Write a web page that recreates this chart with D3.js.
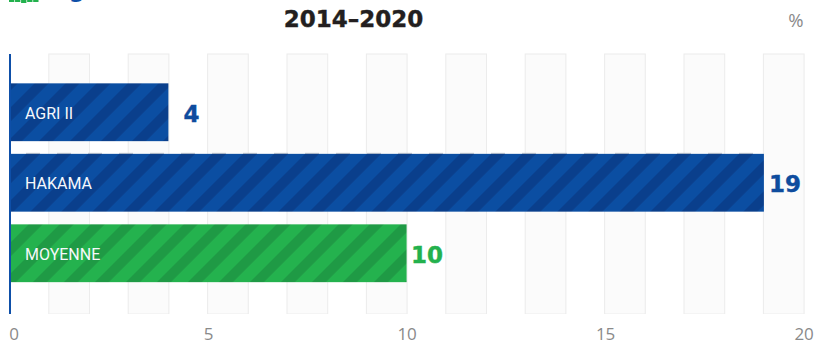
<!DOCTYPE html>
<html>
<head>
<meta charset="utf-8">
<script src="https://cdn.jsdelivr.net/npm/d3@7/dist/d3.min.js"></script>
<style>
html,body{margin:0;padding:0;background:#fff;overflow:hidden}
svg{display:block}
</style>
</head>
<body>
<script>
const categories = ["AGRI II", "HAKAMA", "MOYENNE"];
const values = [4, 19, 10];
const valueOffsets = [15, 5, 4.5];
const barKinds = ["blue", "blue", "green"];
const tickValues = [0, 5, 10, 15, 20];
const unitLabel = "%";
const titleLine = "2014–2020";
const iconBars = [2, 2, 3, 2, 2];

const width = 814, height = 344;
const palette = {
  blue:  {base: "#0b4ea2", dark: "#0a3f8c", phase: 25},
  green: {base: "#24b24e", dark: "#1f9a45", phase: 5}
};
const textColor = {blue: "#0e4c9e", green: "#23b14d"};

const x = d3.scaleLinear().domain([0, 20]).range([9.6, 803.6]);
const y = d3.scaleBand().domain(categories).range([77, 288.5]).paddingInner(0.18).paddingOuter(0.09);

const svg = d3.select("body").append("svg").attr("width", width).attr("height", height)
  .style("font-family", "'DejaVu Sans'");

// Diagonal hatching, one 31px-period pattern per colour
const defs = svg.append("defs");
const period = 31 / Math.SQRT2;
Object.entries(palette).forEach(([key, p]) => {
  const pat = defs.append("pattern")
    .attr("id", "hatch-" + key)
    .attr("patternUnits", "userSpaceOnUse")
    .attr("width", period).attr("height", period)
    .attr("patternTransform", `rotate(45) translate(${p.phase / Math.SQRT2} 0)`);
  pat.append("rect").attr("width", period).attr("height", period).attr("fill", p.base);
  pat.append("rect").attr("width", 14 / Math.SQRT2).attr("height", period).attr("fill", p.dark);
});

// Alternating background bands on every odd unit
const plotTop = 54, plotBottom = 314;
svg.append("g").selectAll("rect")
  .data(d3.range(1, 20, 2))
  .join("rect")
  .attr("x", d => x(d) - 0.5)
  .attr("width", d => x(d + 1) - x(d) + 1)
  .attr("y", plotTop)
  .attr("height", plotBottom - plotTop)
  .attr("fill", "#fbfbfb")
  .attr("stroke", "#ececec")
  .attr("stroke-width", 1);
svg.append("rect").attr("x", 0).attr("y", plotBottom).attr("width", width).attr("height", 3).attr("fill", "#fff");

// Thin dashes peeking out above the second bar
svg.append("line")
  .attr("x1", 10).attr("x2", x(19))
  .attr("y1", y("HAKAMA") - 0.5).attr("y2", y("HAKAMA") - 0.5)
  .attr("stroke", "#bfc3ca")
  .attr("stroke-dasharray", "14 17")
  .attr("stroke-dashoffset", -16);

// Bars
svg.append("g").selectAll("rect")
  .data(categories)
  .join("rect")
  .attr("x", x(0))
  .attr("y", d => y(d))
  .attr("width", (d, i) => x(values[i]) - x(0))
  .attr("height", y.bandwidth())
  .attr("fill", (d, i) => `url(#hatch-${barKinds[i]})`);

// Vertical baseline
svg.append("line")
  .attr("x1", Math.round(x(0))).attr("x2", Math.round(x(0)))
  .attr("y1", plotTop).attr("y2", plotBottom)
  .attr("stroke", "#0e4fa8").attr("stroke-width", 2);

// Category names inside the bars
svg.append("g").selectAll("text")
  .data(categories)
  .join("text")
  .attr("x", 25)
  .attr("y", d => y(d) + y.bandwidth() / 2 + 6.3)
  .attr("fill", "#f6f8fb")
  .style("font-family", "Roboto")
  .style("font-size", "16px")
  .text(d => d);

// Value labels
svg.append("g").selectAll("text")
  .data(categories)
  .join("text")
  .attr("x", (d, i) => x(values[i]) + valueOffsets[i])
  .attr("y", d => y(d) + y.bandwidth() / 2 + 9.5)
  .attr("fill", (d, i) => textColor[barKinds[i]])
  .attr("stroke", (d, i) => textColor[barKinds[i]])
  .attr("stroke-width", 0.4)
  .style("font-size", "23px")
  .style("font-weight", "700")
  .text((d, i) => values[i]);

// Value axis
const axis = svg.append("g")
  .attr("transform", `translate(0,${plotBottom})`)
  .call(d3.axisBottom(x).tickValues(tickValues).tickSize(0).tickPadding(14));
axis.select(".domain").remove();
axis.selectAll("text")
  .attr("fill", "#8a8a8a")
  .attr("dx", d => d === 0 ? 4 : 0)
  .style("font-family", "'Open Sans'")
  .style("font-size", "17px");

// Unit marker
svg.append("text")
  .attr("x", 803.5).attr("y", 26.5)
  .attr("text-anchor", "end")
  .attr("fill", "#8a8a8a")
  .style("font-family", "'Open Sans'")
  .style("font-size", "18.5px")
  .text(unitLabel);

// Heading block, which runs off the top edge
svg.append("text")
  .attr("x", 353.5).attr("y", 26.5)
  .attr("text-anchor", "middle")
  .attr("fill", "#231f20")
  .attr("stroke", "#231f20")
  .attr("stroke-width", 0.4)
  .style("font-size", "23px")
  .style("font-weight", "700")
  .text(titleLine);
svg.append("text")
  .attr("x", 650).attr("y", -3)
  .attr("text-anchor", "middle")
  .attr("fill", "#231f20")
  .style("font-size", "23px")
  .style("font-weight", "700")
  .text(",");
svg.append("text")
  .attr("x", 77).attr("y", -3)
  .attr("text-anchor", "middle")
  .attr("fill", "#0e4fa8")
  .style("font-size", "23px")
  .style("font-weight", "700")
  .text("g");

// Bottom of the small bar-chart icon
const iconX = d3.scaleBand().domain(d3.range(iconBars.length)).range([9, 38.5]).paddingInner(0.12);
svg.append("g").selectAll("rect")
  .data(iconBars)
  .join("rect")
  .attr("x", (d, i) => iconX(i))
  .attr("y", 0)
  .attr("width", iconX.bandwidth())
  .attr("height", d => d)
  .attr("fill", "#23b14d");
</script>
</body>
</html>
